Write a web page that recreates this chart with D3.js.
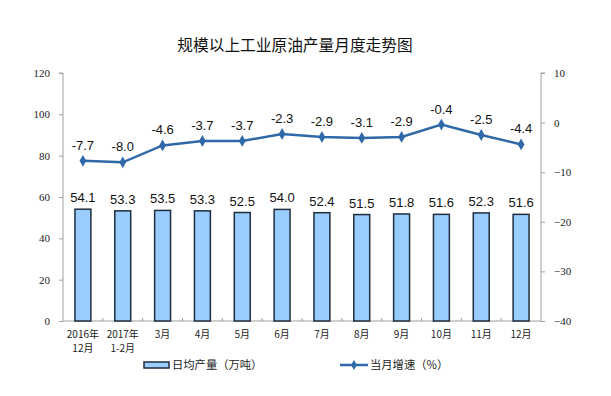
<!DOCTYPE html>
<html>
<head>
<meta charset="utf-8">
<script src="https://cdn.jsdelivr.net/npm/d3@7"></script>
<style>
body { margin: 0; background: #fff; }
</style>
</head>
<body>
<svg id="chart" width="611" height="396"></svg>
<script>
// data
months = [["2016年", "12月"], ["2017年", "1-2月"], ["3月"], ["4月"], ["5月"], ["6月"],
          ["7月"], ["8月"], ["9月"], ["10月"], ["11月"], ["12月"]];
output = [54.1, 53.3, 53.5, 53.3, 52.5, 54.0, 52.4, 51.5, 51.8, 51.6, 52.3, 51.6];
growth = [-7.7, -8.0, -4.6, -3.7, -3.7, -2.3, -2.9, -3.1, -2.9, -0.4, -2.5, -4.4];
left_ticks = [0, 20, 40, 60, 80, 100, 120];
right_ticks = [-40, -30, -20, -10, 0, 10];

svg = d3.select('#chart');
x0 = 63; x1 = 541; yTop = 73; yBot = 321;
axis_color = '#a0a0a0';
line_color = '#2f69a8';
serif = '"Liberation Serif", "DejaVu Serif", serif';
cjk = '"Noto Sans CJK SC", sans-serif';
sans = '"Liberation Sans", Arial, sans-serif';

x = d3.scaleBand().domain(d3.range(months.length)).range([x0, x1]).paddingInner(0.6).paddingOuter(0.3);
yl = d3.scaleLinear().domain([0, 120]).range([yBot, yTop]);
yr = d3.scaleLinear().domain([-40, 10]).range([yBot, yTop]);
step = (x1 - x0) / months.length;

// title
svg.append('text')
    .attr('x', 295).attr('y', 51)
    .attr('text-anchor', 'middle')
    .attr('font-family', cjk)
    .attr('font-size', 15.7)
    .attr('fill', '#111')
    .text('规模以上工业原油产量月度走势图');

// left axis
gl = svg.append('g').attr('transform', `translate(${x0},0)`)
    .call(d3.axisLeft(yl).tickValues(left_ticks).tickSize(4).tickPadding(9));
gl.select('.domain').attr('stroke', axis_color).attr('d', `M-4,${yTop}H0V${yBot}`);
gl.selectAll('.tick line').attr('stroke', axis_color);
gl.selectAll('.tick text').attr('font-family', serif).attr('font-size', 11).attr('fill', '#222');

// right axis
gr = svg.append('g').attr('transform', `translate(${x1},0)`)
    .call(d3.axisRight(yr).tickValues(right_ticks).tickSize(4).tickPadding(9));
gr.select('.domain').attr('stroke', axis_color).attr('d', `M4,${yTop}H0V${yBot}`);
gr.selectAll('.tick line').attr('stroke', axis_color);
gr.selectAll('.tick text').attr('font-family', serif).attr('font-size', 11).attr('fill', '#222');

// bottom axis line + category ticks
svg.append('line')
    .attr('x1', x0).attr('x2', x1).attr('y1', yBot).attr('y2', yBot)
    .attr('stroke', axis_color);
svg.selectAll('.cat-tick')
    .data(d3.range(1, months.length))
    .enter().append('line')
    .attr('x1', d => x0 + d * step).attr('x2', d => x0 + d * step)
    .attr('y1', yBot).attr('y2', yBot - 3)
    .attr('stroke', axis_color);

// bars
svg.selectAll('.bar')
    .data(output)
    .enter().append('rect')
    .attr('x', (d, i) => x(i))
    .attr('y', d => yl(d))
    .attr('width', x.bandwidth())
    .attr('height', d => yBot - yl(d))
    .attr('fill', '#99ccff')
    .attr('stroke', '#1f2d3d')
    .attr('stroke-width', 1.5);

svg.selectAll('.bar-label')
    .data(output)
    .enter().append('text')
    .attr('x', (d, i) => x(i) + x.bandwidth() / 2)
    .attr('y', d => yl(d) - 7)
    .attr('text-anchor', 'middle')
    .attr('font-family', sans)
    .attr('font-size', 13)
    .attr('fill', '#111')
    .text(d => d.toFixed(1));

// line
cx = i => x(i) + x.bandwidth() / 2;
line = d3.line().x((d, i) => cx(i)).y(d => yr(d));
svg.append('path')
    .datum(growth)
    .attr('d', line)
    .attr('fill', 'none')
    .attr('stroke', line_color)
    .attr('stroke-width', 2.5);

svg.selectAll('.marker')
    .data(growth)
    .enter().append('path')
    .attr('d', d3.symbol().type(d3.symbolDiamond).size(40))
    .attr('transform', (d, i) => `translate(${cx(i)},${yr(d)})`)
    .attr('fill', line_color);

svg.selectAll('.line-label')
    .data(growth)
    .enter().append('text')
    .attr('x', (d, i) => cx(i))
    .attr('y', d => yr(d) - 11)
    .attr('text-anchor', 'middle')
    .attr('font-family', sans)
    .attr('font-size', 13)
    .attr('fill', '#111')
    .text(d => d.toFixed(1));

// x labels
months.forEach(function(m, i){
    m.forEach(function(s, j){
        svg.append('text')
            .attr('x', cx(i))
            .attr('y', 337.5 + j * 14.6)
            .attr('text-anchor', 'middle')
            .attr('font-family', cjk)
            .attr('font-size', 10)
            .attr('fill', '#222')
            .text(s);
    });
});

// legend
svg.append('rect')
    .attr('x', 144).attr('y', 362).attr('width', 25).attr('height', 6)
    .attr('fill', '#99ccff').attr('stroke', '#1f2d3d').attr('stroke-width', 1.5);
svg.append('text')
    .attr('x', 172).attr('y', 369)
    .attr('font-family', cjk).attr('font-size', 11.3).attr('fill', '#222')
    .text('日均产量（万吨）');

svg.append('line')
    .attr('x1', 340).attr('x2', 368).attr('y1', 365).attr('y2', 365)
    .attr('stroke', line_color).attr('stroke-width', 2.5);
svg.append('path')
    .attr('d', d3.symbol().type(d3.symbolDiamond).size(30))
    .attr('transform', 'translate(354,365)')
    .attr('fill', line_color);
svg.append('text')
    .attr('x', 370).attr('y', 369)
    .attr('font-family', cjk).attr('font-size', 11.3).attr('fill', '#222')
    .text('当月增速（%）');
</script>
</body>
</html>
